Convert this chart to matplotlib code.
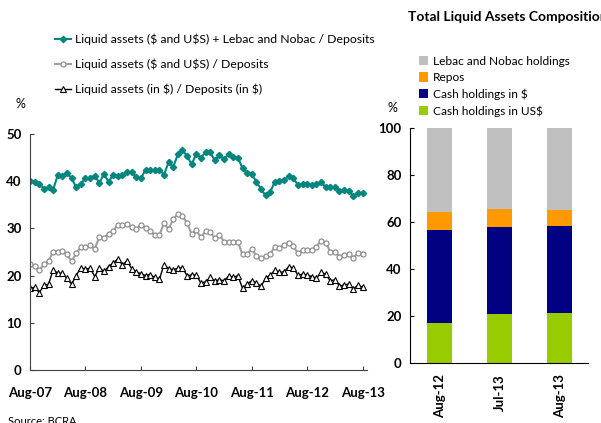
import numpy as np
import matplotlib.pyplot as plt

plt.rcParams['font.family'] = ['Lato', 'DejaVu Sans']

# monthly series, Aug-07 .. Aug-13
liq_total = [40.1, 39.8, 39.5, 38.3, 38.7, 38.2, 41.3, 41.1, 41.8, 40.6, 38.7, 39.5,
             40.6, 40.7, 41.2, 39.6, 41.6, 39.8, 41.4, 41.1, 41.3, 41.9, 42.0, 40.8,
             40.6, 42.4, 42.3, 42.3, 42.4, 41.4, 44.0, 43.0, 45.7,
             46.6, 45.3, 43.6, 45.7, 45.0, 46.1, 46.1, 44.4, 45.5, 44.6, 45.8, 45.1,
             45.0, 42.7, 41.8, 41.5, 39.9, 38.3, 37.0, 37.7, 39.9, 40.1, 40.2, 41.1,
             40.6, 39.2, 39.5, 39.5, 39.2, 39.4, 39.9, 38.7, 38.8, 38.7, 37.9, 38.1,
             38.0, 36.8, 37.6, 37.5]
liq_all = [22.5, 22.1, 21.1, 22.4, 23.0, 25.1, 24.9, 25.2, 24.5, 23.0, 24.7, 26.0,
           26.0, 26.5, 25.6, 28.2, 28.0, 28.9, 29.5, 30.8, 30.8, 30.9, 30.2, 29.8,
           30.7, 30.0, 29.4, 28.6, 28.6, 31.1, 29.8, 32.0,
           33.0, 32.7, 31.1, 28.8, 29.6, 28.1, 29.4, 29.2, 27.9, 28.6, 27.2, 27.2,
           27.2, 27.1, 24.5, 24.6, 25.6, 24.2, 23.7, 24.2, 24.6, 26.1, 25.9, 26.5,
           27.0, 26.3, 24.7, 25.4, 25.4, 25.4, 26.1, 27.4, 27.0, 25.1, 25.1, 24.0,
           24.4, 24.6, 23.8, 24.7, 24.5]
liq_pesos = [17.3, 17.5, 16.4, 17.9, 18.2, 21.2, 20.5, 20.5, 19.4, 18.2, 20.0, 21.7,
             21.3, 21.6, 19.8, 21.6, 20.9, 21.9, 22.7, 23.5, 22.3, 23.1, 21.5, 20.8,
             20.4, 20.0, 20.2, 19.6, 19.2, 22.3, 21.5, 21.2,
             21.6, 21.6, 20.0, 20.1, 20.1, 18.4, 18.7, 19.6, 18.9, 19.1, 18.9, 19.9,
             19.6, 20.0, 17.3, 18.2, 18.9, 18.5, 17.7, 19.4, 20.1, 21.1, 20.7, 20.8,
             21.9, 21.6, 20.1, 20.3, 20.1, 19.8, 19.4, 20.7, 20.3, 18.9, 19.1, 17.8,
             18.0, 18.2, 17.1, 18.0, 17.5]
year_labels = ['Aug-07', 'Aug-08', 'Aug-09', 'Aug-10', 'Aug-11', 'Aug-12', 'Aug-13']

# composition bars
bar_labels = ['Aug-12', 'Jul-13', 'Aug-13']
cash_usd = [17.2, 21.0, 21.4]
cash_ars = [39.5, 37.0, 37.0]
repos = [7.7, 7.7, 6.6]
lebac = [35.6, 34.3, 35.0]

fig = plt.figure(figsize=(6.01, 4.23), dpi=100)

# left chart
ax = fig.add_axes([0.050, 0.1253, 0.561, 0.558])
x = np.arange(len(liq_total))
ax.plot(x, liq_total, color='#00867F', lw=1.5, marker='D', ms=3.2, mfc='#00867F', mec='#00867F',
        label=r'Liquid assets (\$ and U\$S) + Lebac and Nobac / Deposits')
ax.plot(x, liq_all, color='#A0A0A0', lw=1.5, marker='o', ms=3.6, mfc='white', mec='#909090', mew=0.9,
        label=r'Liquid assets (\$ and U\$S) / Deposits')
ax.plot(x, liq_pesos, color='black', lw=1.0, marker='^', ms=4.0, mfc='white', mec='black', mew=0.8,
        label=r'Liquid assets (in \$) / Deposits (in \$)')
ax.set_xlim(0, 73)
ax.set_ylim(0, 50)
ax.set_yticks([0, 10, 20, 30, 40, 50])
ax.set_xticks(np.arange(0, 73, 12))
ax.set_xticklabels(year_labels)
for s in ['top', 'right']:
    ax.spines[s].set_visible(False)
for s in ['left', 'bottom']:
    ax.spines[s].set_color('#404040')
ax.tick_params(direction='in', length=3, color='#404040', labelsize=9.5, pad=6)
ax.tick_params(axis='x', pad=12)
for t in ax.get_xticklabels() + ax.get_yticklabels():
    t.set_fontweight('bold')
ax.legend(loc='upper left', bbox_to_anchor=(44 / 601, 1 - 23 / 423), bbox_transform=fig.transFigure,
          frameon=False, fontsize=8.8, handlelength=1.3, handletextpad=0.3, labelspacing=1.08)
fig.text(15 / 601, 1 - 104 / 423, '%', fontsize=9, ha='left', va='center')

# right chart
ax2 = fig.add_axes([0.682, 0.142, 0.296, 0.555])
bx = np.arange(len(bar_labels))
w = 0.42
b1 = ax2.bar(bx, cash_usd, w, color='#99CC00', label='Cash holdings in US$')
b2 = ax2.bar(bx, cash_ars, w, bottom=cash_usd, color='#000080', label='Cash holdings in $')
bot = np.array(cash_usd) + np.array(cash_ars)
b3 = ax2.bar(bx, repos, w, bottom=bot, color='#FF9900', label='Repos')
b4 = ax2.bar(bx, lebac, w, bottom=bot + np.array(repos), color='#C0C0C0', label='Lebac and Nobac holdings')
ax2.set_xlim(-0.5, 2.47)
ax2.set_ylim(0, 100)
ax2.set_yticks([0, 20, 40, 60, 80, 100])
ax2.set_xticks(bx)
ax2.set_xticklabels(bar_labels, rotation=90)
for s in ['top', 'right']:
    ax2.spines[s].set_visible(False)
ax2.tick_params(axis='y', direction='in', length=3, labelsize=9.5, pad=6)
ax2.tick_params(axis='x', length=0, labelsize=9.5, pad=8)
for t in ax2.get_xticklabels() + ax2.get_yticklabels():
    t.set_fontweight('bold')
ax2.legend(handles=[b4, b3, b2, b1], loc='upper left', bbox_to_anchor=(408 / 601, 1 - 45 / 423),
           bbox_transform=fig.transFigure, frameon=False, fontsize=8.6, handlelength=0.8,
           handleheight=0.8, handletextpad=0.4, labelspacing=0.45)
fig.text(388 / 601, 1 - 108 / 423, '%', fontsize=9, ha='left', va='center')
fig.text(408 / 601, 1 - 17 / 423, 'Total Liquid Assets Composition', fontsize=10,
         fontweight='bold', ha='left', va='center')

fig.text(8 / 601, 1 - 416 / 423, 'Source: BCRA', fontsize=8, ha='left', va='top')

fig.savefig('out.png', dpi=100)
